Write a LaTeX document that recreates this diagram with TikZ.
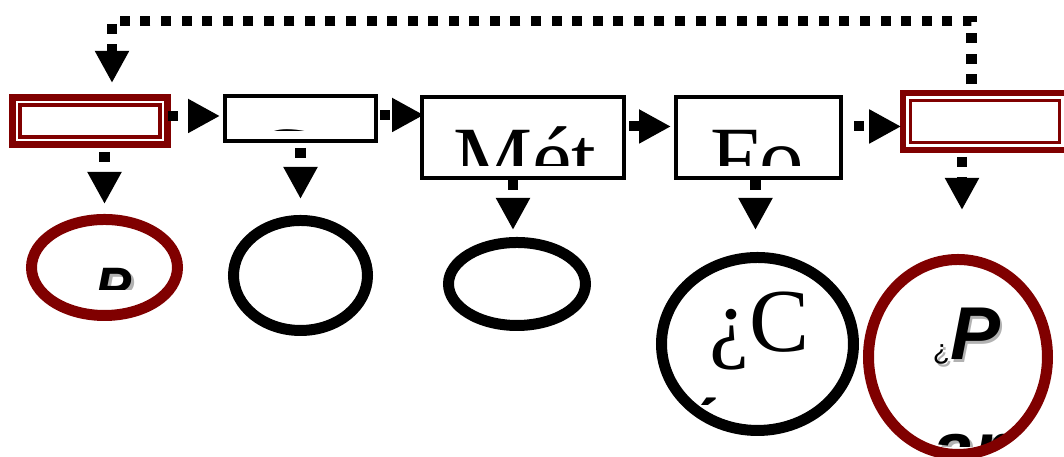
\documentclass[tikz,border=0pt]{standalone}
\usepackage{fontspec}
\usetikzlibrary{arrows.meta,shapes.geometric}
\newfontfamily\boldsans{Liberation Sans}
\newfontfamily\plainserif{Liberation Serif}
\definecolor{maroon}{RGB}{128,0,0}

\begin{document}
\begin{tikzpicture}[
        box/.style={draw=black, line width=1.14pt, fill=white, inner sep=0pt},
        keybox/.style={draw=maroon, line width=2pt, fill=white, inner sep=0pt,
            path picture={\draw[maroon, line width=0.9pt]
                ([shift={(0.075,-0.075)}]path picture bounding box.north west) rectangle
                ([shift={(-0.075,0.075)}]path picture bounding box.south east);}},
        blob/.style={ellipse, draw=black, line width=3.13pt, inner sep=0pt},
        keyblob/.style={blob, draw=maroon},
        flow/.style={line width=2.85pt, dash pattern=on 2.85pt off 3pt,
            -{Triangle[length=9.1pt,width=9.1pt]}},
        serif/.style={anchor=base, inner sep=0pt, font=\plainserif\fontsize{#1}{#1}\selectfont},
        bsans/.style={anchor=base, inner sep=0pt, font=\boldsans\bfseries\itshape\fontsize{#1}{#1}\selectfont},
        shade/.style={text=black!30}
    ]
        \useasboundingbox (0,0) rectangle (10.64,4.57);

        \node[keybox, minimum width=1.55cm, minimum height=0.47cm] (b1) at (0.90,3.36) {};
        \node[box, minimum width=1.51cm, minimum height=0.45cm, path picture={
            \clip (path picture bounding box.north west) rectangle ([yshift=0.10cm]path picture bounding box.south east);
            \node[serif=25.3] at ([shift={(-0.17,-0.925)}]path picture bounding box.north) {C};}] (b2) at (3.005,3.385) {};
        \node[box, minimum width=2.02cm, minimum height=0.81cm, path picture={
            \clip (path picture bounding box.north west) rectangle ([yshift=0.12cm]path picture bounding box.south east);
            \node[serif=25.3] at ([shift={(0.02,-0.92)}]path picture bounding box.north) {Mét};}] (b3) at (5.23,3.195) {};
        \node[box, minimum width=1.65cm, minimum height=0.81cm, path picture={
            \clip (path picture bounding box.north west) rectangle ([yshift=0.12cm]path picture bounding box.south east);
            \node[serif=25.3] at ([shift={(-0.01,-0.92)}]path picture bounding box.north) {Fo};}] (b4) at (7.585,3.195) {};
        \node[keybox, line width=1.6pt, minimum width=1.64cm, minimum height=0.57cm] (b5) at (9.85,3.355) {};

        \node[keyblob, minimum width=1.46cm, minimum height=0.96cm, path picture={
            \clip (path picture bounding box.north west) rectangle ([yshift=-0.225cm]path picture bounding box.east);
            \node[bsans=15.4, shade] at ([shift={(0.12,-0.41)}]path picture bounding box.center) {P};
            \node[bsans=15.4] at ([shift={(0.095,-0.385)}]path picture bounding box.center) {P};}] (e1) at (1.045,1.895) {};
        \node[blob, minimum width=1.34cm, minimum height=1.10cm] (e2) at (3.005,1.815) {};
        \node[blob, minimum width=1.37cm, minimum height=0.83cm] (e3) at (5.17,1.73) {};
        \node[blob, minimum width=1.92cm, minimum height=1.73cm, path picture={
            \clip (path picture bounding box.north west) rectangle ([yshift=-0.61cm]path picture bounding box.east);
            \node[serif=25.6] at ([shift={(0.02,-0.08)}]path picture bounding box.center) {¿C};
            \node[serif=25.6] at ([shift={(-0.545,-1.17)}]path picture bounding box.center) {ó};}] (c4) at (7.575,1.13) {};
        \node[keyblob, minimum width=1.79cm, minimum height=1.95cm, path picture={
            \clip (path picture bounding box.north west) rectangle ([yshift=-0.90cm]path picture bounding box.east);
            \node[bsans=21.3, shade] at ([shift={(0.11,-0.055)}]path picture bounding box.center) {{\mdseries\upshape\fontsize{8}{8}\selectfont ¿}P};
            \node[bsans=21.3] at ([shift={(0.085,-0.03)}]path picture bounding box.center) {{\mdseries\upshape\fontsize{8}{8}\selectfont ¿}P};
            \node[bsans=21.3, shade] at ([shift={(0.125,-1.205)}]path picture bounding box.center) {ar};
            \node[bsans=21.3] at ([shift={(0.10,-1.18)}]path picture bounding box.center) {ar};}] (e5) at (9.58,1.0) {};

        \draw[flow, shorten <=-0.03cm, shorten >=0.03cm] (b1.east |- 0,3.41) -- (b2.west |- 0,3.41);
        \draw[flow, shorten <=0.02cm, shorten >=-0.04cm] (b2.east |- 0,3.42) -- (b3.west |- 0,3.42);
        \draw[flow, shorten <=0.03cm, shorten >=0.03cm] (b3.east |- 0,3.305) -- (b4.west |- 0,3.305);
        \draw[flow, shorten <=0.11cm, shorten >=-0.01cm] (b4.east |- 0,3.305) -- (b5.west |- 0,3.305);

        \draw[flow, shorten <=0.04cm, shorten >=0.10cm] (b1.south -| e1.north) -- (e1.north);
        \draw[flow, shorten <=0.05cm, shorten >=0.16cm] (b2.south -| e2.north) -- (e2.north);
        \draw[flow, shorten >=0.07cm] ([xshift=-0.04cm]b3.south -| e3.north) -- ([xshift=-0.04cm]e3.north);
        \draw[flow, shorten >=0.22cm] ([xshift=-0.02cm]b4.south -| c4.north) -- ([xshift=-0.02cm]c4.north);
        \draw[flow, shorten <=0.04cm, shorten >=0.44cm] ([xshift=0.04cm]b5.south -| e5.north) -- ([xshift=0.04cm]e5.north);

        \draw[flow, shorten <=0.06cm, shorten >=0.11cm] ([xshift=-0.135cm]b5.north) -- ++(0,0.69) -| ([xshift=0.22cm]b1.north);
    \end{tikzpicture}
\end{document}
